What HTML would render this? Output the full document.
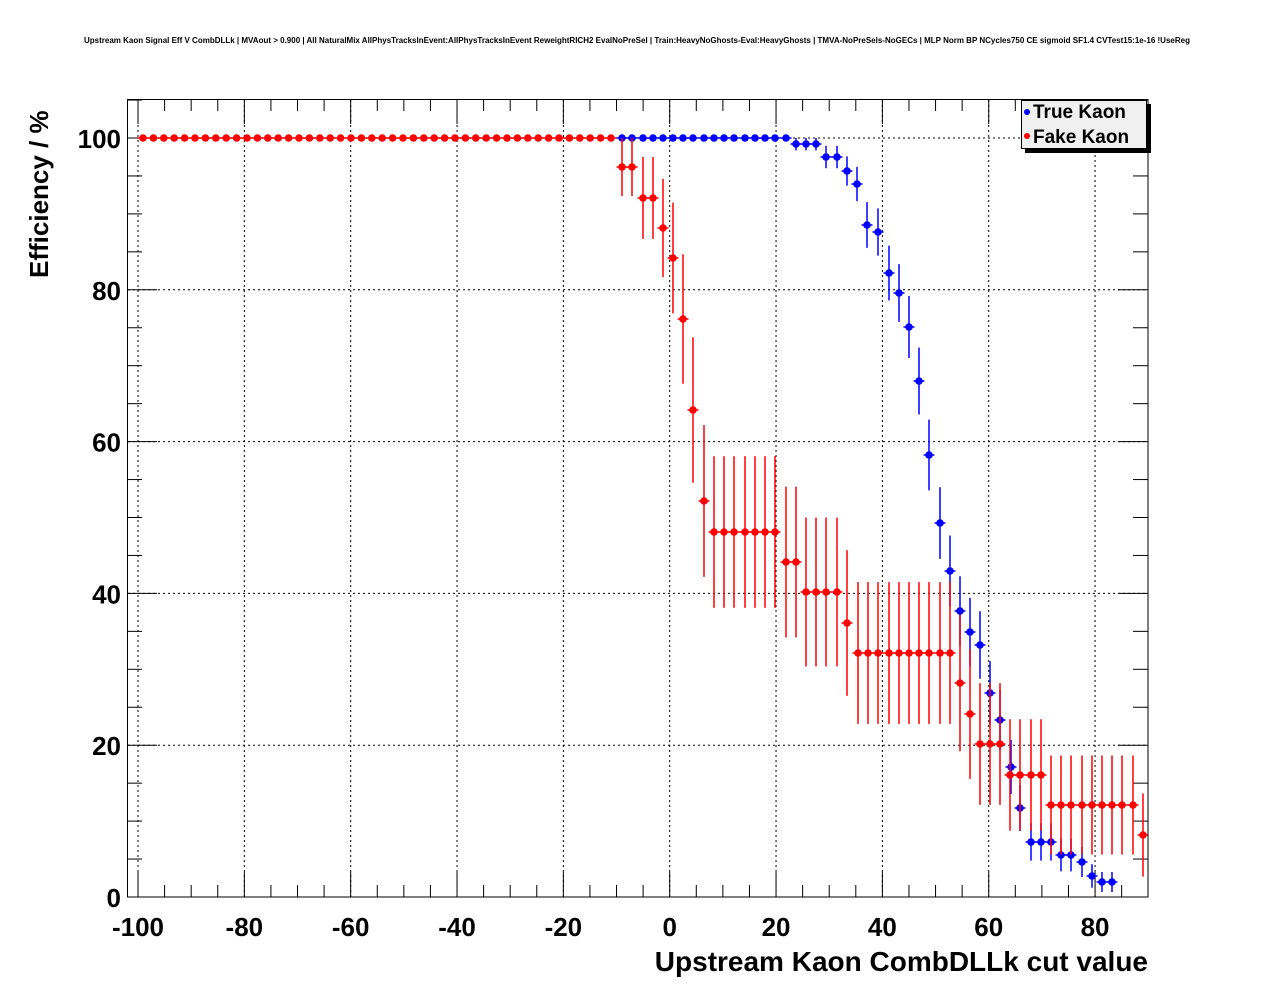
<!DOCTYPE html>
<html><head><meta charset="utf-8"><style>
html,body{margin:0;padding:0;background:#fff;}
svg{display:block;font-family:"Liberation Sans",Arial,sans-serif;}
</style></head><body>
<svg id="s" width="1276" height="996" viewBox="0 0 1276 996" xmlns="http://www.w3.org/2000/svg">
<rect width="1276" height="996" fill="#fff"/>
<text x="637" y="43" font-size="8" font-weight="bold" text-anchor="middle">Upstream Kaon Signal Eff V CombDLLk | MVAout &gt; 0.900 | All NaturalMix AllPhysTracksInEvent:AllPhysTracksInEvent ReweightRICH2 EvalNoPreSel | Train:HeavyNoGhosts-Eval:HeavyGhosts | TMVA-NoPreSels-NoGECs | MLP Norm BP NCycles750 CE sigmoid SF1.4 CVTest15:1e-16 !UseReg</text>
<g id="grid" stroke="#000" stroke-width="1" stroke-dasharray="2,3"></g>
<g id="ticks" stroke="#000" stroke-width="1"></g>
<g id="data"></g>
<rect x="127.5" y="99.5" width="1020.5" height="797.5" fill="none" stroke="#000" stroke-width="1"/>
<g id="labels" font-size="26" font-weight="bold"></g>
<text x="1148" y="971" font-size="28" font-weight="bold" text-anchor="end">Upstream Kaon CombDLLk cut value</text>
<text transform="translate(48,278) rotate(-90)" font-size="26" font-weight="bold">Efficiency / %</text>
<rect x="1025" y="104" width="126" height="49" fill="#000"/>
<rect x="1021.5" y="100.5" width="125" height="48" fill="#f0f0f0" stroke="#000" stroke-width="1"/>
<circle cx="1027" cy="112" r="3" fill="#00f"/>
<circle cx="1027" cy="136" r="3" fill="#f00"/>
<text x="1033" y="118" font-size="19" font-weight="bold">True Kaon</text>
<text x="1033" y="143" font-size="19" font-weight="bold">Fake Kaon</text>
</svg>
<script>
var NS="http://www.w3.org/2000/svg";
function el(p,t,a){var e=document.createElementNS(NS,t);for(var k in a)e.setAttribute(k,a[k]);p.appendChild(e);return e;}
var X=function(v){return 138+(v+100)*5.317;};
var Y=function(v){return 897-v*7.59;};
var grid=document.getElementById('grid'),ticks=document.getElementById('ticks'),lab=document.getElementById('labels'),data=document.getElementById('data');
for(var v=-100;v<=80;v+=20){var x=X(v);el(grid,'line',{x1:x,y1:100,x2:x,y2:897});
 var t=el(lab,'text',{x:x,y:936,'text-anchor':'middle'});t.textContent=v;}
for(var v=20;v<=100;v+=20){var y=Y(v);el(grid,'line',{x1:128,y1:y,x2:1148,y2:y});}
for(var v=0;v<=100;v+=20){var t=el(lab,'text',{x:121,y:Y(v)+10,'text-anchor':'end'});t.textContent=v;}
for(var v=-100;v<=90;v+=5){var x=X(v);if(x<128||x>1147)continue;var L=(v%20==0)?25:12;
 el(ticks,'line',{x1:x,y1:897,x2:x,y2:897-L});el(ticks,'line',{x1:x,y1:99,x2:x,y2:99+L});}
for(var v=0;v<=105;v+=5){var y=Y(v);if(y<100)continue;var L=(v%20==0)?30:15;
 el(ticks,'line',{x1:127,y1:y,x2:127+L,y2:y});el(ticks,'line',{x1:1148,y1:y,x2:1148-L,y2:y});}
function series(pts,N,col){pts.forEach(function(p){var x=p[0],y=p[1],pv=(897-y)/759;if(pv>1)pv=1;
 var e=Math.sqrt(Math.max(pv*(1-pv),0)/N)*759;var y1=Math.max(y-e,138);var y2=Math.min(y+e,897);
 el(data,'line',{x1:x,y1:y1,x2:x,y2:y2,stroke:col,'stroke-width':1.5});
 el(data,'line',{x1:x-5.5,y1:y,x2:x+5.5,y2:y,stroke:col,'stroke-width':1.5});
 el(data,'circle',{cx:x,cy:y,r:3.8,fill:col});});}
var red=[];
for(var i=0;i<46;i++){var x=143+i*10.4;if(x<=613)red.push([x,138]);}
var rp=[[622,167],[632,167],[643,198],[653,198],[663,228],[673,258],[683,319],[693,410],[704,501],[714,532],[724,532],[734,532],[745,532],[755,532],[765,532],[775,532],[786,562],[796,562],[806,592],[816,592],[826,592],[837,592],[847,623],[858,653],[868,653],[878,653],[889,653],[899,653],[909,653],[919,653],[929,653],[940,653],[950,653],[960,683],[970,714],[980,744],[990,744],[1000,744],[1010,775],[1020,775],[1031,775],[1041,775],[1051,805],[1061,805],[1071,805],[1082,805],[1092,805],[1102,805],[1112,805],[1122,805],[1133,805],[1143,835]];
var bx=[622,632,643,653,663,673,683,693,704,714,724,734,745,755,765,775,786];
var bp=bx.map(function(x){return [x,138];}).concat([[796,144],[806,144],[816,144],[826,157],[837,157],[847,171],[857,184],[867,225],[878,232],[889,273],[899,293],[909,327],[919,381],[929,455],[940,523],[950,571],[960,611],[970,632],[980,645],[990,693],[1000,720],[1011,767],[1020,808],[1031,842],[1041,842],[1051,842],[1061,855],[1071,855],[1082,862],[1092,876],[1102,882],[1112,882]]);
series(bp,112,'#00f');
series(red.concat(rp),25,'#f00');
</script>
</body></html>
